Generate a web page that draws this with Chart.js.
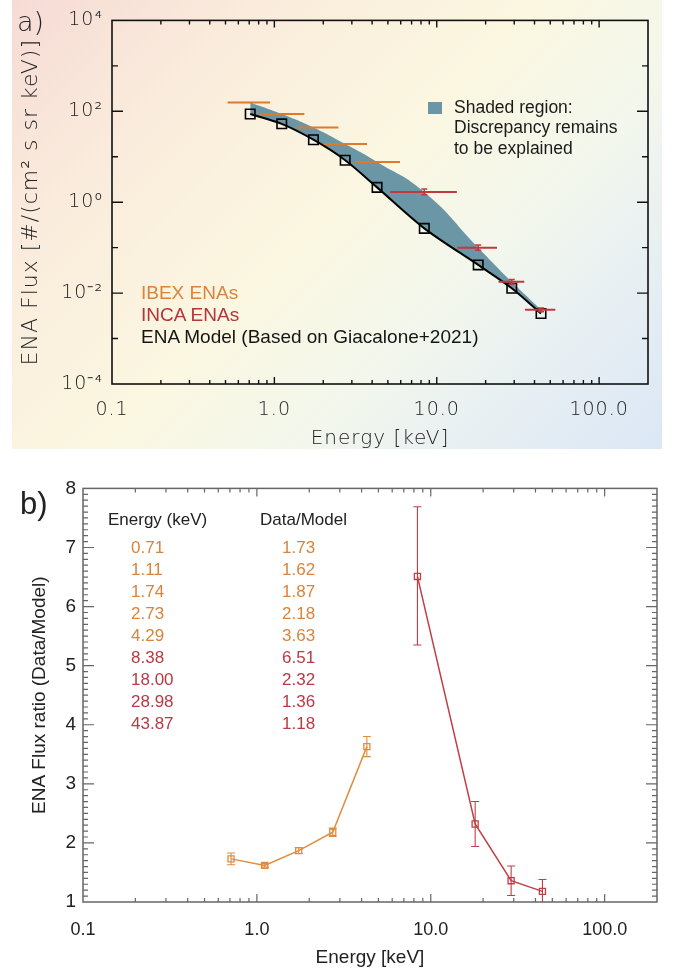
<!DOCTYPE html>
<html>
<head>
<meta charset="utf-8">
<script src="https://cdn.jsdelivr.net/npm/chart.js@4.4.1/dist/chart.umd.min.js"></script>
<style>
html, body { margin: 0; padding: 0; background: #fff; }
body { width: 676px; height: 975px; position: relative; overflow: hidden; font-family: "Liberation Sans", Arial, sans-serif; }
#bgA { position: absolute; left: 12px; top: 0; width: 650px; height: 449px;
  background: linear-gradient(135deg, #f6dbd5 0%, #faebdc 22%, #fbf7e1 48%, #f3f7ec 66%, #e6eef3 84%, #dbe7f5 100%); }
#wrapA { position: absolute; left: 0; top: 0; width: 676px; height: 455px; }
#wrapB { position: absolute; left: 0; top: 470px; width: 676px; height: 505px; }
.lbl { position: absolute; white-space: nowrap; line-height: 1; }
.thin { font-family: "DejaVu Sans", sans-serif; font-weight: 300; }
</style>
</head>
<body>
<div id="bgA"></div>
<div id="wrapA"><canvas id="chartA"></canvas></div>
<div id="wrapB"><canvas id="chartB"></canvas></div>

<div class="lbl thin" style="left:17px; top:8px; font-size:27px; color:#222;">a)</div>
<div class="lbl" style="left:428px; top:102px; width:14px; height:12px; background:#6b96a5;"></div>
<div class="lbl" style="left:454px; top:99px; font-size:17.5px; color:#1a1a1a;">Shaded region:</div>
<div class="lbl" style="left:454px; top:119px; font-size:17.5px; color:#1a1a1a;">Discrepancy remains</div>
<div class="lbl" style="left:454px; top:140px; font-size:17.5px; color:#1a1a1a;">to be explained</div>
<div class="lbl" style="left:141px; top:283px; font-size:19px; color:#d9843c;">IBEX ENAs</div>
<div class="lbl" style="left:141px; top:305px; font-size:19px; color:#b5333b;">INCA ENAs</div>
<div class="lbl" style="left:141px; top:327px; font-size:19px; color:#151515;">ENA Model (Based on Giacalone+2021)</div>

<div class="lbl" style="left:20px; top:488px; font-size:31px; color:#222;">b)</div>
<div class="lbl" style="left:108px; top:511px; font-size:17px; color:#222;">Energy (keV)</div>
<div class="lbl" style="left:260px; top:511px; font-size:17px; color:#222;">Data/Model</div>
<div id="tableB"></div>

<script>
// Values
const energies = [0.71, 1.11, 1.74, 2.73, 4.29, 8.38, 18.00, 28.98, 43.87];
const nIbex = 5; // first five energies are IBEX, the rest INCA
const modelFlux = [87, 53, 23.7, 8.4, 2.12, 0.266, 0.0417, 0.0128, 0.00355];
const dataFlux = [156, 87, 44, 19, 7.7, 1.67, 0.100, 0.0177, 0.0043];
const energyLow = [0.515, 0.815, 1.37, 2.01, 3.15, 5.16, 13.4, 24.0, 35.0];
const energyHigh = [0.94, 1.53, 2.48, 3.72, 5.94, 13.3, 23.5, 34.6, 53.7];
const fluxLow = [null, null, null, null, null, 1.45, 0.088, 0.0158, 0.0039];
const fluxHigh = [null, null, null, null, null, 1.95, 0.115, 0.0198, 0.0047];
const ratios = [1.73, 1.62, 1.87, 2.18, 3.63, 6.51, 2.32, 1.36, 1.18];
const ratioLow = [1.63, 1.59, 1.82, 2.11, 3.46, 5.35, 1.94, 1.11, 0.98];
const ratioHigh = [1.83, 1.65, 1.92, 2.25, 3.80, 7.69, 2.70, 1.61, 1.38];

const xTicks = [0.1, 1, 10, 100];
const xTickLabels = ['0.1', '1.0', '10.0', '100.0'];
const yTicksA = [1e-4, 1e-2, 1, 1e2, 1e4];
const yTickLabelsA = ['10⁻⁴', '10⁻²', '10⁰', '10²', '10⁴'];
const yMinorA = [1e-3, 1e-1, 1e1, 1e3];
const yTicksB = [1, 2, 3, 4, 5, 6, 7, 8];

// Colours
const SHADE = '#6b96a5';
const IBEX_BAR = '#de7a2c';
const INCA_BAR = '#c2383c';
const IBEX_LINE = '#e08b3e';
const INCA_LINE = '#bf3f46';
const IBEX_TEXT = '#d9843c';
const INCA_TEXT = '#b83a45';

const logMinors = (lo, hi) => {
    const out = [];
    for (let d = lo; d < hi * 0.999; d *= 10) {
        for (let k = 2; k <= 9; k++) out.push(k * d);
    }
    return out;
};
const xMinor = logMinors(0.1, 100);
const yMinorB = [];
for (let v = 1; v < 8; v++) {
    for (let k = 1; k <= 9; k++) yMinorB.push(v + k / 10);
}

const pts = (ys, from, to) => energies.slice(from, to).map((e, i) => ({ x: e, y: ys[from + i] }));

// Box round the plot with inward ticks on all four sides
const frameTicks = (opt) => ({
    id: 'frameTicks',
    afterDatasetsDraw(chart) {
        const { ctx, chartArea: a, scales: { x, y } } = chart;
        ctx.save();
        ctx.strokeStyle = opt.color;
        ctx.lineWidth = opt.tickWidth;
        ctx.beginPath();
        const tx = (vals, len) => vals.forEach(v => {
            const px = x.getPixelForValue(v);
            if (px <= a.left + 1 || px >= a.right - 1) return;
            ctx.moveTo(px, a.bottom); ctx.lineTo(px, a.bottom - len);
            ctx.moveTo(px, a.top); ctx.lineTo(px, a.top + len);
        });
        const ty = (vals, len) => vals.forEach(v => {
            const py = y.getPixelForValue(v);
            if (py <= a.top + 1 || py >= a.bottom - 1) return;
            ctx.moveTo(a.left, py); ctx.lineTo(a.left + len, py);
            ctx.moveTo(a.right, py); ctx.lineTo(a.right - len, py);
        });
        tx(opt.xMajor, opt.xMajorLen);
        tx(opt.xMinor, opt.xMinorLen);
        ty(opt.yMajor, opt.yMajorLen);
        ty(opt.yMinor, opt.yMinorLen);
        ctx.stroke();
        ctx.lineWidth = opt.width;
        ctx.strokeRect(a.left, a.top, a.right - a.left, a.bottom - a.top);
        ctx.restore();
    }
});

// Letter spacing for the top panel axis text
const spacing = {
    id: 'spacing',
    beforeDraw(chart) { chart.ctx.letterSpacing = '1px'; },
    afterDraw(chart) { chart.ctx.letterSpacing = '0px'; }
};

// Energy bins and flux errors, panel a
const errorBarsA = {
    id: 'errorBarsA',
    afterDatasetsDraw(chart) {
        const { ctx, chartArea: a, scales: { x, y } } = chart;
        ctx.save();
        ctx.beginPath();
        ctx.rect(a.left, a.top, a.right - a.left, a.bottom - a.top);
        ctx.clip();
        ctx.lineWidth = 2;
        energies.forEach((e, i) => {
            ctx.strokeStyle = i < nIbex ? IBEX_BAR : INCA_BAR;
            const py = y.getPixelForValue(dataFlux[i]);
            ctx.beginPath();
            ctx.moveTo(x.getPixelForValue(energyLow[i]), py);
            ctx.lineTo(x.getPixelForValue(energyHigh[i]), py);
            ctx.stroke();
            if (fluxLow[i] != null) {
                const px = x.getPixelForValue(e);
                const y1 = y.getPixelForValue(fluxLow[i]);
                const y2 = y.getPixelForValue(fluxHigh[i]);
                ctx.lineWidth = 1.5;
                ctx.beginPath();
                ctx.moveTo(px, y1); ctx.lineTo(px, y2);
                ctx.moveTo(px - 3, y1); ctx.lineTo(px + 3, y1);
                ctx.moveTo(px - 3, y2); ctx.lineTo(px + 3, y2);
                ctx.stroke();
                ctx.lineWidth = 2;
            }
        });
        ctx.restore();
    }
};

// Ratio errors, panel b
const errorBarsB = {
    id: 'errorBarsB',
    afterDatasetsDraw(chart) {
        const { ctx, chartArea: a, scales: { x, y } } = chart;
        ctx.save();
        ctx.beginPath();
        ctx.rect(a.left, a.top, a.right - a.left, a.bottom - a.top);
        ctx.clip();
        ctx.lineWidth = 1.1;
        energies.forEach((e, i) => {
            ctx.strokeStyle = i < nIbex ? IBEX_LINE : INCA_LINE;
            const px = x.getPixelForValue(e);
            const y1 = y.getPixelForValue(ratioLow[i]);
            const y2 = y.getPixelForValue(ratioHigh[i]);
            ctx.beginPath();
            ctx.moveTo(px, y1); ctx.lineTo(px, y2);
            ctx.moveTo(px - 4, y1); ctx.lineTo(px + 4, y1);
            ctx.moveTo(px - 4, y2); ctx.lineTo(px + 4, y2);
            ctx.stroke();
        });
        ctx.restore();
    }
};

const thinFont = (size) => ({ family: 'DejaVu Sans', size: size, weight: '300' });
const sansFont = (size) => ({ family: 'Liberation Sans', size: size });

// Panel a: flux spectrum
new Chart(document.getElementById('chartA'), {
    type: 'line',
    data: {
        datasets: [
            {
                data: pts(modelFlux, 0, 9),
                borderColor: '#000',
                borderWidth: 2,
                pointStyle: 'rect',
                pointRadius: 6.7,
                pointBorderWidth: 1.6,
                pointBorderColor: '#000',
                pointBackgroundColor: 'rgba(0,0,0,0)',
                tension: 0.3,
                fill: false
            },
            {
                data: pts(dataFlux, 0, 9),
                borderColor: 'rgba(0,0,0,0)',
                borderWidth: 0,
                pointRadius: 0,
                backgroundColor: SHADE,
                tension: 0.5,
                fill: '-1'
            }
        ]
    },
    options: {
        responsive: true,
        maintainAspectRatio: false,
        animation: false,
        layout: { padding: { left: 0, top: 14, right: 28, bottom: 0 } },
        plugins: { legend: { display: false }, tooltip: { enabled: false } },
        scales: {
            x: {
                type: 'logarithmic',
                min: 0.1,
                max: 200,
                afterFit: (s) => { s.height = 71; },
                afterBuildTicks: (s) => { s.ticks = xTicks.map(v => ({ value: v })); },
                grid: { display: false, drawTicks: false },
                border: { display: false },
                ticks: {
                    autoSkip: false, maxRotation: 0, padding: 14.5, color: '#222',
                    font: thinFont(19),
                    callback: (v, i) => xTickLabels[i]
                },
                title: { display: true, text: 'Energy [keV]', color: '#222', font: thinFont(20), padding: { top: 0, bottom: 4 } }
            },
            y: {
                type: 'logarithmic',
                min: 1e-4,
                max: 1e4,
                afterFit: (s) => { s.width = 112; },
                afterBuildTicks: (s) => { s.ticks = yTicksA.map(v => ({ value: v })); },
                grid: { display: false, drawTicks: false },
                border: { display: false },
                ticks: {
                    autoSkip: false, padding: 9, color: '#222',
                    font: thinFont(19),
                    callback: (v, i) => yTickLabelsA[i]
                },
                title: { display: true, text: 'ENA Flux [#/(cm² s sr keV)]', color: '#222', font: thinFont(22), padding: { top: 18, bottom: 0 } }
            }
        }
    },
    plugins: [spacing, errorBarsA, frameTicks({
        color: '#111', width: 1.6, tickWidth: 1.4,
        xMajor: xTicks, xMinor: xMinor, yMajor: yTicksA, yMinor: yMinorA,
        xMajorLen: 7, xMinorLen: 4, yMajorLen: 11, yMinorLen: 6
    })]
});

// Panel b: data/model ratio
new Chart(document.getElementById('chartB'), {
    type: 'line',
    data: {
        datasets: [
            {
                data: pts(ratios, 0, nIbex),
                borderColor: IBEX_LINE,
                borderWidth: 1.5,
                pointStyle: 'rect',
                pointRadius: 4.3,
                pointBorderWidth: 1.3,
                pointBorderColor: IBEX_LINE,
                pointBackgroundColor: 'rgba(0,0,0,0)',
                fill: false
            },
            {
                data: pts(ratios, nIbex, energies.length),
                borderColor: INCA_LINE,
                borderWidth: 1.5,
                pointStyle: 'rect',
                pointRadius: 4.3,
                pointBorderWidth: 1.3,
                pointBorderColor: INCA_LINE,
                pointBackgroundColor: 'rgba(0,0,0,0)',
                fill: false
            }
        ]
    },
    options: {
        responsive: true,
        maintainAspectRatio: false,
        animation: false,
        layout: { padding: { left: 0, top: 17, right: 19, bottom: 0 } },
        plugins: { legend: { display: false }, tooltip: { enabled: false } },
        scales: {
            x: {
                type: 'logarithmic',
                min: 0.1,
                max: 200,
                afterFit: (s) => { s.height = 73; },
                afterBuildTicks: (s) => { s.ticks = xTicks.map(v => ({ value: v })); },
                grid: { display: false, drawTicks: false },
                border: { display: false },
                ticks: {
                    autoSkip: false, maxRotation: 0, padding: 17, color: '#222',
                    font: sansFont(18),
                    callback: (v, i) => xTickLabels[i]
                },
                title: { display: true, text: 'Energy [keV]', color: '#222', font: sansFont(19), padding: { top: 0, bottom: 5.5 } }
            },
            y: {
                type: 'linear',
                min: 1,
                max: 8,
                afterFit: (s) => { s.width = 83; },
                afterBuildTicks: (s) => { s.ticks = yTicksB.map(v => ({ value: v })); },
                grid: { display: false, drawTicks: false },
                border: { display: false },
                ticks: {
                    autoSkip: false, padding: 7, color: '#222',
                    font: sansFont(19),
                    callback: (v) => String(v)
                },
                title: { display: true, text: 'ENA Flux ratio (Data/Model)', color: '#222', font: sansFont(19), padding: { top: 28.5, bottom: 0 } }
            }
        }
    },
    plugins: [errorBarsB, frameTicks({
        color: '#666', width: 1.5, tickWidth: 1.2,
        xMajor: xTicks, xMinor: xMinor, yMajor: yTicksB, yMinor: yMinorB,
        xMajorLen: 8, xMinorLen: 4, yMajorLen: 11, yMinorLen: 5
    })]
});

// Table of energies and ratios, panel b
const tableB = document.getElementById('tableB');
energies.forEach((e, i) => {
    const color = i < nIbex ? IBEX_TEXT : INCA_TEXT;
    const top = 547 + 22 * i - 8.5;
    [[131, e.toFixed(2)], [282, ratios[i].toFixed(2)]].forEach(([left, text]) => {
        const d = document.createElement('div');
        d.className = 'lbl';
        d.style.cssText = `left:${left}px; top:${top}px; font-size:17px; color:${color};`;
        d.textContent = text;
        tableB.appendChild(d);
    });
});
</script>
</body>
</html>
